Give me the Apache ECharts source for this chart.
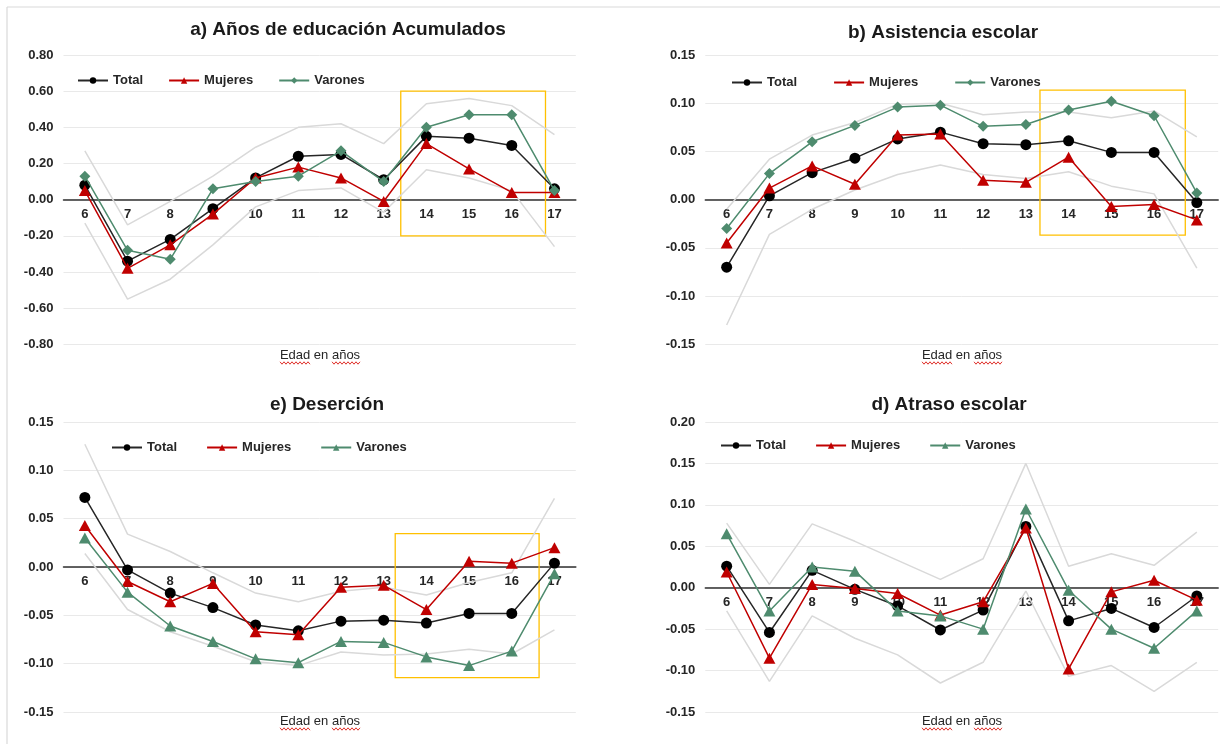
<!DOCTYPE html>
<html>
<head>
<meta charset="utf-8">
<script src="https://cdn.jsdelivr.net/npm/echarts@6/dist/echarts.min.js"></script>
<style>
  html, body { margin: 0; padding: 0; background: #fff; }
  #chart { width: 1220px; height: 744px; }
</style>
</head>
<body>
<div id="chart"></div>
<script>
// Edades (eje X)
const ages = [6, 7, 8, 9, 10, 11, 12, 13, 14, 15, 16, 17];

// a) Años de educación acumulados
const eduTotal   = [0.08, -0.34, -0.22, -0.05, 0.12, 0.24, 0.25, 0.11, 0.35, 0.34, 0.30, 0.06];
const eduMujeres = [0.05, -0.38, -0.25, -0.08, 0.12, 0.18, 0.12, -0.01, 0.31, 0.17, 0.04, 0.04];
const eduVarones = [0.13, -0.28, -0.33, 0.06, 0.10, 0.13, 0.27, 0.10, 0.40, 0.47, 0.47, 0.05];
const eduUpper   = [0.27, -0.14, -0.01, 0.13, 0.29, 0.40, 0.42, 0.31, 0.53, 0.56, 0.52, 0.36];
const eduLower   = [-0.13, -0.55, -0.44, -0.25, -0.04, 0.05, 0.065, -0.07, 0.165, 0.12, 0.05, -0.26];

// b) Asistencia escolar
const asiTotal   = [-0.070, 0.004, 0.028, 0.043, 0.063, 0.070, 0.058, 0.057, 0.061, 0.049, 0.049, -0.003];
const asiMujeres = [-0.045, 0.012, 0.035, 0.016, 0.067, 0.068, 0.020, 0.018, 0.044, -0.007, -0.005, -0.021];
const asiVarones = [-0.030, 0.027, 0.060, 0.077, 0.096, 0.098, 0.076, 0.078, 0.093, 0.102, 0.087, 0.007];
const asiUpper   = [-0.010, 0.042, 0.067, 0.080, 0.099, 0.100, 0.088, 0.091, 0.091, 0.085, 0.092, 0.065];
const asiLower   = [-0.130, -0.036, -0.010, 0.010, 0.026, 0.036, 0.026, 0.022, 0.029, 0.014, 0.006, -0.071];

// e) Deserción
const desTotal   = [0.072, -0.003, -0.027, -0.042, -0.060, -0.066, -0.056, -0.055, -0.058, -0.048, -0.048, 0.004];
const desMujeres = [0.043, -0.015, -0.036, -0.017, -0.067, -0.070, -0.021, -0.019, -0.044, 0.006, 0.004, 0.020];
const desVarones = [0.030, -0.026, -0.061, -0.077, -0.095, -0.099, -0.077, -0.078, -0.093, -0.102, -0.087, -0.007];
const desUpper   = [0.127, 0.034, 0.016, -0.006, -0.027, -0.036, -0.025, -0.021, -0.029, -0.016, -0.006, 0.071];
const desLower   = [0.014, -0.044, -0.067, -0.082, -0.098, -0.102, -0.088, -0.091, -0.090, -0.085, -0.090, -0.065];

// d) Atraso escolar
const atrTotal   = [0.026, -0.054, 0.021, -0.002, -0.022, -0.051, -0.027, 0.074, -0.040, -0.025, -0.048, -0.010];
const atrMujeres = [0.019, -0.085, 0.004, -0.001, -0.007, -0.033, -0.017, 0.072, -0.098, -0.005, 0.009, -0.015];
const atrVarones = [0.065, -0.028, 0.025, 0.020, -0.028, -0.034, -0.050, 0.095, -0.003, -0.050, -0.073, -0.028];
const atrUpper   = [0.078, 0.004, 0.077, 0.056, 0.033, 0.010, 0.035, 0.150, 0.026, 0.041, 0.027, 0.067];
const atrLower   = [-0.028, -0.113, -0.034, -0.061, -0.081, -0.115, -0.090, -0.004, -0.107, -0.094, -0.125, -0.090];

const seriesNames = ['Total', 'Mujeres', 'Varones'];
const xTitle = 'Edad en años';

const FONT = '"Liberation Sans", Arial, sans-serif';
const TEXT = '#262626';
const C_TOTAL = '#000000';
const C_MUJ = '#c00000';
const C_VAR = '#4e8b6e';
const C_CI = '#d9d9d9';
const C_BOX = '#ffc000';

const panels = [
  {
    key: 'a', title: 'a) Años de educación Acumulados',
    total: eduTotal, mujeres: eduMujeres, varones: eduVarones, upper: eduUpper, lower: eduLower,
    varSymbol: 'diamond',
    grid: { left: 63.5, top: 55, width: 512.3, height: 289.3 },
    y: { min: -0.8, max: 0.8, interval: 0.2 },
    titlePos: { x: 348, y: 20 },
    legend: { left: 77, top: 74, gap: 25 },
    box: [[13.40, 0.60], [16.79, -0.20]],
    xTitlePos: { x: 320, y: 355 }
  },
  {
    key: 'b', title: 'b) Asistencia escolar',
    total: asiTotal, mujeres: asiMujeres, varones: asiVarones, upper: asiUpper, lower: asiLower,
    varSymbol: 'diamond',
    grid: { left: 705.3, top: 55, width: 512.9, height: 289.3 },
    y: { min: -0.15, max: 0.15, interval: 0.05 },
    titlePos: { x: 943, y: 23 },
    legend: { left: 731, top: 76, gap: 36 },
    box: [[13.33, 0.1135], [16.73, -0.0367]],
    xTitlePos: { x: 962, y: 355 }
  },
  {
    key: 'e', title: 'e) Deserción',
    total: desTotal, mujeres: desMujeres, varones: desVarones, upper: desUpper, lower: desLower,
    varSymbol: 'triangle',
    grid: { left: 63.5, top: 422, width: 512.3, height: 290 },
    y: { min: -0.15, max: 0.15, interval: 0.05 },
    titlePos: { x: 327, y: 395 },
    legend: { left: 111, top: 441, gap: 29 },
    box: [[13.27, 0.0345], [16.64, -0.1145]],
    xTitlePos: { x: 320, y: 721 }
  },
  {
    key: 'd', title: 'd) Atraso escolar',
    total: atrTotal, mujeres: atrMujeres, varones: atrVarones, upper: atrUpper, lower: atrLower,
    varSymbol: 'triangle',
    grid: { left: 705.3, top: 422, width: 512.9, height: 290 },
    y: { min: -0.15, max: 0.20, interval: 0.05 },
    titlePos: { x: 949, y: 395 },
    legend: { left: 720, top: 439, gap: 29 },
    box: null,
    xTitlePos: { x: 962, y: 721 }
  }
];

const pairs = (vals) => ages.map((a, i) => [a, vals[i]]);

const option = {
  animation: false,
  backgroundColor: '#ffffff',
  textStyle: { fontFamily: FONT },
  title: [], legend: [], grid: [], xAxis: [], yAxis: [], series: [], graphic: []
};

// Wavy red underline as drawn by a spell checker
function squiggle(x0, x1, y) {
  const pts = [];
  let up = true;
  for (let x = x0; x <= x1; x += 2) {
    pts.push([x, up ? y - 1.2 : y + 1.2]);
    up = !up;
  }
  return {
    type: 'polyline', silent: true,
    shape: { points: pts },
    style: { stroke: '#e0312b', lineWidth: 1, fill: null }
  };
}

panels.forEach((p, i) => {
  option.grid.push(Object.assign({ containLabel: false }, p.grid));

  option.title.push({
    text: p.title,
    left: p.titlePos.x, top: p.titlePos.y, textAlign: 'center', padding: 0,
    textStyle: { fontFamily: FONT, fontSize: 19, fontWeight: 'bold', color: '#1a1a1a' }
  });

  // Age labels sit just under the zero line: shift them up from the grid's bottom edge
  const zeroFromBottom = p.grid.height * (-p.y.min) / (p.y.max - p.y.min);

  option.xAxis.push({
    type: 'value', gridIndex: i, min: 5.5, max: 17.5,
    splitLine: { show: false },
    axisTick: { show: false },
    axisLine: { show: true, onZero: true, lineStyle: { color: '#303030', width: 1.5 } },
    axisLabel: {
      customValues: ages,
      fontFamily: FONT, fontSize: 13, fontWeight: 'bold', color: TEXT,
      margin: 8 - zeroFromBottom,
      formatter: (v) => String(v)
    }
  });

  option.yAxis.push({
    type: 'value', gridIndex: i,
    min: p.y.min, max: p.y.max, interval: p.y.interval,
    axisLine: { show: false }, axisTick: { show: false },
    splitLine: { show: true, lineStyle: { color: '#e9e9e9', width: 1 } },
    axisLabel: {
      fontFamily: FONT, fontSize: 13, fontWeight: 'bold', color: TEXT, margin: 10,
      formatter: (v) => v.toFixed(2)
    }
  });

  const ci = (vals) => ({
    type: 'line', xAxisIndex: i, yAxisIndex: i, data: pairs(vals),
    symbol: 'none', silent: true, z: 1,
    lineStyle: { color: C_CI, width: 1.5 }
  });
  const upper = ci(p.upper);
  if (p.box) {
    upper.markArea = {
      silent: true,
      itemStyle: { color: 'rgba(0,0,0,0)', borderColor: C_BOX, borderWidth: 1.3 },
      data: [[{ coord: p.box[0] }, { coord: p.box[1] }]]
    };
  }
  option.series.push(upper, ci(p.lower));

  const names = seriesNames.map((n) => p.key + '|' + n);
  option.series.push(
    {
      name: names[0], type: 'line', xAxisIndex: i, yAxisIndex: i, data: pairs(p.total), z: 3,
      symbol: 'circle', symbolSize: 11,
      itemStyle: { color: C_TOTAL },
      lineStyle: { color: '#262626', width: 1.5 }
    },
    {
      name: names[1], type: 'line', xAxisIndex: i, yAxisIndex: i, data: pairs(p.mujeres), z: 4,
      symbol: 'triangle', symbolSize: [12, 11],
      itemStyle: { color: C_MUJ },
      lineStyle: { color: C_MUJ, width: 1.5 }
    },
    {
      name: names[2], type: 'line', xAxisIndex: i, yAxisIndex: i, data: pairs(p.varones), z: 5,
      symbol: p.varSymbol, symbolSize: p.varSymbol === 'diamond' ? [11, 11] : [12, 11],
      itemStyle: { color: C_VAR },
      lineStyle: { color: C_VAR, width: 1.5 }
    }
  );

  option.legend.push({
    data: names,
    left: p.legend.left, top: p.legend.top, padding: 0,
    orient: 'horizontal', itemGap: p.legend.gap,
    itemWidth: 30, itemHeight: 8,
    selectedMode: false,
    formatter: (n) => n.split('|')[1],
    textStyle: { fontFamily: FONT, fontSize: 13, fontWeight: 'bold', color: TEXT }
  });

  // X axis title with spell-check underlines
  const cx = p.xTitlePos.x, cy = p.xTitlePos.y;
  option.graphic.push({
    type: 'text', silent: true, x: cx, y: cy,
    style: { text: xTitle, fontFamily: FONT, fontSize: 13, fill: TEXT, align: 'center', verticalAlign: 'middle' }
  });
  option.graphic.push(squiggle(cx - 40, cx - 10, cy + 8));
  option.graphic.push(squiggle(cx + 12, cx + 40, cy + 8));
});

// Chart frame (top and left edges)
option.graphic.push(
  { type: 'line', silent: true, shape: { x1: 7, y1: 7, x2: 1220, y2: 7 }, style: { stroke: '#d9d9d9', lineWidth: 1.2 } },
  { type: 'line', silent: true, shape: { x1: 7, y1: 7, x2: 7, y2: 744 }, style: { stroke: '#d9d9d9', lineWidth: 1.2 } }
);

const chart = echarts.init(document.getElementById('chart'), null, { renderer: 'canvas' });
chart.setOption(option);
</script>
</body>
</html>
